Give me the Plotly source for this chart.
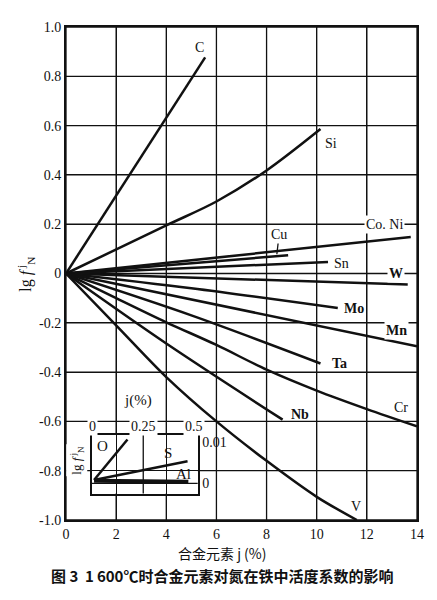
import plotly.graph_objects as go

# ---------------- data ----------------
x_ticks = [0, 2, 4, 6, 8, 10, 12, 14]
y_ticks = [1.0, 0.8, 0.6, 0.4, 0.2, 0, -0.2, -0.4, -0.6, -0.8, -1.0]
y_tick_labels = ["1.0", "0.8", "0.6", "0.4", "0.2", "0", "-0.2", "-0.4", "-0.6", "-0.8", "-1.0"]

C_x = [0, 5.55]
C_y = [0, 0.877]
Si_x = [0, 4, 6, 8, 10.15]
Si_y = [0, 0.195, 0.292, 0.418, 0.586]
CoNi_x = [0, 13.75]
CoNi_y = [0, 0.148]
Cu_x = [0, 8.86]
Cu_y = [0, 0.074]
Sn_x = [0, 10.45]
Sn_y = [0, 0.047]
W_x = [0, 13.63]
W_y = [0, -0.045]
Mo_x = [0, 5, 10.84]
Mo_y = [0, -0.06, -0.14]
Mn_x = [0, 14]
Mn_y = [0, -0.295]
Ta_x = [0, 5, 10.15]
Ta_y = [0, -0.17, -0.365]
Cr_x = [0, 2, 4, 6, 8, 10, 12, 14]
Cr_y = [0, -0.1, -0.198, -0.29, -0.39, -0.475, -0.55, -0.62]
Nb_x = [0, 4, 8.64]
Nb_y = [0, -0.284, -0.593]
V_x = [0, 2, 4, 6, 8, 10, 11.6]
V_y = [0, -0.21, -0.42, -0.6, -0.76, -0.906, -1.0]

# inset
inset_x_ticks = [0, 0.25, 0.5]
inset_x_tick_labels = ["0", "0.25", "0.5"]
inset_y_ticks = [0, 0.01]
inset_y_tick_labels = ["0", "0.01"]
O_x = [0.01, 0.173]
O_y = [0.0008, 0.0107]
S_x = [0.01, 0.466]
S_y = [0.0008, 0.0054]
Al_x = [0.01, 0.47]
Al_y = [0.0006, 0.0004]

# ---------------- styling ----------------
SERIF = "Liberation Serif, DejaVu Serif, serif"
CJK = "Noto Sans CJK SC"
INK = "#111111"

fig = go.Figure()

main_series = [
    ("C", C_x, C_y), ("Si", Si_x, Si_y), ("Co. Ni", CoNi_x, CoNi_y),
    ("Cu", Cu_x, Cu_y), ("Sn", Sn_x, Sn_y), ("W", W_x, W_y),
    ("Mo", Mo_x, Mo_y), ("Mn", Mn_x, Mn_y), ("Ta", Ta_x, Ta_y),
    ("Cr", Cr_x, Cr_y), ("Nb", Nb_x, Nb_y), ("V", V_x, V_y),
]
for name, xs, ys in main_series:
    fig.add_trace(go.Scatter(
        x=xs, y=ys, mode="lines", name=name, showlegend=False,
        line=dict(color=INK, width=2.5, shape="spline" if len(xs) > 2 else "linear",
                  smoothing=0.9),
        hoverinfo="skip", xaxis="x", yaxis="y"))

inset_series = [("O", O_x, O_y, 2.5), ("S", S_x, S_y, 2.5), ("Al", Al_x, Al_y, 4)]
for name, xs, ys, w in inset_series:
    fig.add_trace(go.Scatter(
        x=xs, y=ys, mode="lines", name=name, showlegend=False,
        line=dict(color=INK, width=w), hoverinfo="skip",
        xaxis="x2", yaxis="y2"))

# element labels
labels = [
    ("C", 5.31, 0.918, False, False),
    ("Si", 10.58, 0.529, False, False),
    ("Co. Ni", 12.71, 0.2, False, True),
    ("Sn", 11.0, 0.04, False, False),
    ("W", 13.17, 0.0, True, True),
    ("Mo", 11.5, -0.142, True, False),
    ("Mn", 13.2, -0.232, True, True),
    ("Ta", 10.89, -0.367, True, False),
    ("Cr", 13.35, -0.544, False, False),
    ("Nb", 9.35, -0.571, True, False),
    ("V", 11.55, -0.946, False, False),
]
ann = []
for text, x, y, bold, bg in labels:
    ann.append(dict(
        x=x, y=y, xref="x", yref="y", showarrow=False,
        text=f"<b>{text}</b>" if bold else text,
        font=dict(family=SERIF, size=14, color=INK),
        bgcolor="white" if bg else "rgba(0,0,0,0)", borderpad=1,
        xanchor="center", yanchor="middle"))
# Cu with leader line
ann.append(dict(
    x=8.41, y=0.078, xref="x", yref="y", ax=8.5, ay=0.158, axref="x", ayref="y",
    showarrow=True, arrowhead=0, arrowwidth=1.3, arrowcolor=INK, text="Cu",
    font=dict(family=SERIF, size=14, color=INK)))

# inset top labels (on the main grid line, white background)
for v, t in zip(inset_x_ticks, inset_x_tick_labels):
    ann.append(dict(
        x=v, y=0.19, xref="x2", yref="paper", showarrow=False, text=t,
        font=dict(family=SERIF, size=14, color=INK), bgcolor="white",
        borderpad=1, xanchor="center", yanchor="middle"))
# inset labels
for text, x, y in [("O", 0.05, 0.0092), ("S", 0.37, 0.0074), ("Al", 0.445, 0.0023)]:
    ann.append(dict(
        x=x, y=y, xref="x2", yref="y2", showarrow=False, text=text,
        font=dict(family=SERIF, size=15, color=INK),
        xanchor="center", yanchor="middle"))
ann.append(dict(
    x=0.206, y=0.2414, xref="paper", yref="paper", showarrow=False, text="j(%)",
    font=dict(family=SERIF, size=15, color=INK), bgcolor="white",
    xanchor="center", yanchor="middle"))
ann.append(dict(
    x=0.032, y=0.1207, xref="paper", yref="paper", showarrow=False,
    text="lg <i>f</i><sup> j</sup><sub>N</sub>", textangle=-90,
    font=dict(family=SERIF, size=13, color=INK), bgcolor="white",
    xanchor="center", yanchor="middle"))

# axis titles and caption
ann.append(dict(
    x=-0.115, y=0.499, xref="paper", yref="paper", showarrow=False,
    text="lg <i>f</i><sup> j</sup><sub>N</sub>", textangle=-90,
    font=dict(family=SERIF, size=16, color=INK),
    xanchor="center", yanchor="middle"))
ann.append(dict(
    x=0.444, y=-0.0664, xref="paper", yref="paper", showarrow=False,
    text="合金元素 j (%)", font=dict(family=CJK, size=14, color=INK),
    xanchor="center", yanchor="middle"))
ann.append(dict(
    x=0.444, y=-0.1127, xref="paper", yref="paper", showarrow=False,
    text="<b>图 3\u00a0\u00a01\u2009600℃时合金元素对氮在铁中活度系数的影响</b>",
    font=dict(family=CJK, size=15, color=INK),
    xanchor="center", yanchor="middle"))

GRID = dict(color=INK, width=1.3)
shapes = []
# main grid lines, placed at the axis tick values
for v in x_ticks:
    shapes.append(dict(type="line", xref="x", yref="y domain", x0=v, x1=v, y0=0, y1=1,
                       line=GRID, layer="below"))
for v in y_ticks:
    shapes.append(dict(type="line", xref="x domain", yref="y", x0=0, x1=1, y0=v, y1=v,
                       line=GRID, layer="below"))
# white inset background (covers main grid lines)
shapes.append(dict(type="rect", xref="x2 domain", yref="y2 domain", x0=0, x1=1, y0=0, y1=1,
                   fillcolor="white", line=dict(width=0), layer="below"))
# inset dividers
shapes.append(dict(type="line", xref="x2", yref="y2 domain", x0=0.25, x1=0.25, y0=0, y1=1,
                   line=GRID))
shapes.append(dict(type="line", xref="x2 domain", yref="y2", x0=0, x1=1, y0=0, y1=0,
                   line=GRID))

# the page body has an 8px default margin, so the figure is 8px smaller
fig.update_layout(
    width=429, height=592, autosize=False,
    margin=dict(l=58, r=20, t=15, b=80),
    paper_bgcolor="white", plot_bgcolor="rgba(0,0,0,0)",
    showlegend=False,
    annotations=ann, shapes=shapes,
    xaxis=dict(domain=[0, 1], range=[0, 14], tickvals=x_ticks,
               showgrid=True, gridcolor=INK, gridwidth=1.3,
               showline=True, mirror=True, linecolor=INK, linewidth=2,
               zeroline=False, ticks="", tickfont=dict(family=SERIF, size=14, color=INK)),
    yaxis=dict(domain=[0, 1], range=[-1, 1], tickvals=y_ticks, ticktext=y_tick_labels,
               showgrid=True, gridcolor=INK, gridwidth=1.3,
               showline=True, mirror=True, linecolor=INK, linewidth=2,
               zeroline=False, ticks="", tickfont=dict(family=SERIF, size=14, color=INK)),
    xaxis2=dict(domain=[0.0741, 0.3752], range=[0, 0.5156], anchor="y2",
                showgrid=False, zeroline=False, showticklabels=False,
                showline=True, mirror=True, linecolor=INK, linewidth=1.5, ticks=""),
    yaxis2=dict(domain=[0.0537, 0.1724], range=[-0.0025, 0.0118], anchor="x2",
                side="right", tickvals=inset_y_ticks, ticktext=inset_y_tick_labels,
                showgrid=False, zeroline=False, ticks="",
                tickfont=dict(family=SERIF, size=14, color=INK),
                showline=True, mirror=True, linecolor=INK, linewidth=1.5),
)

fig.write_html("out.html")
